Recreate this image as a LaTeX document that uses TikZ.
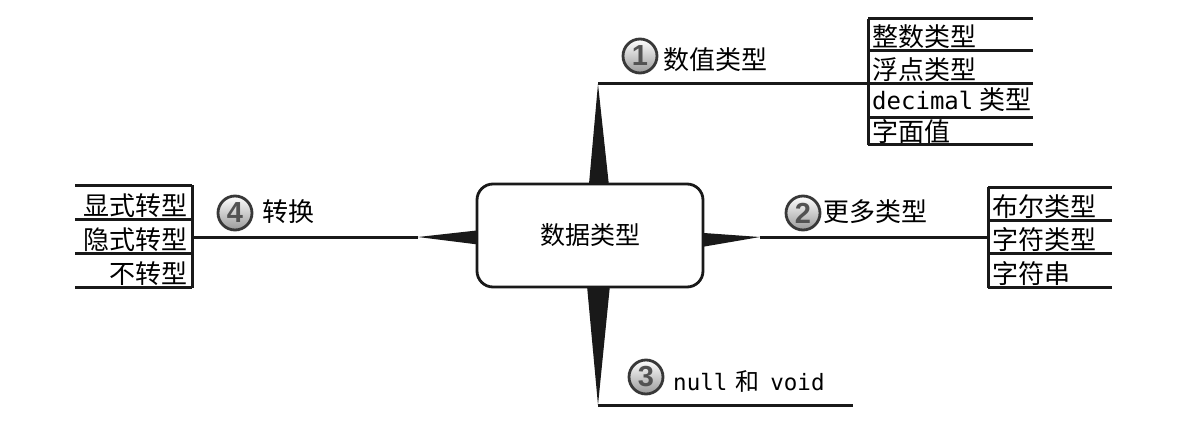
\documentclass[tikz,border=0pt]{standalone}
\usepackage{fontspec}
\setmainfont{Noto Sans CJK SC}
\newfontfamily\cjk{Noto Sans CJK SC}
\newfontfamily\mono{DejaVu Sans Mono}
\newfontfamily\numf{Liberation Sans}
\begin{document}
\begin{tikzpicture}[x=1pt,y=-1pt,
  ln/.style={line width=3pt, draw=black!90},
  spike/.style={fill=black!90},
  box/.style={draw=black!90, line width=2.8pt, rounded corners=16pt, fill=white,
    minimum width=226pt, minimum height=103pt, font=\fontsize{25}{30}\selectfont},
  circ/.style={circle, draw=black!78, line width=2.8pt, minimum size=34pt, inner sep=0pt,
    top color=white, bottom color=black!40, text=black!68,
    font=\numf\bfseries\fontsize{29}{29}\selectfont},
  item/.style={inner sep=0pt, font=\fontsize{26}{30}\selectfont},
  lbl/.style={inner sep=0pt, anchor=base west, font=\fontsize{26}{30}\selectfont}
]
\useasboundingbox (0,0) rectangle (1184,428);

% spike tips and ends of branches
\coordinate (t1) at (598,84);
\coordinate (t2) at (760,237);
\coordinate (t3) at (598,405);
\coordinate (t4) at (418,237);
\coordinate (e1) at (868,84);
\coordinate (e2) at (988,237);
\coordinate (e3) at (853,405);
\coordinate (e4) at (192,237);

% spikes
\fill[spike] (588,195) -- (610,195) -- (t1) -- cycle;
\fill[spike] (586,275) -- (611,275) -- (t3) -- cycle;
\fill[spike] (690,232) -- (690,249) -- (t2) -- cycle;
\fill[spike] (490,229) -- (490,246) -- (t4) -- cycle;

% central box
\node[box] (c) at (590,235.5) {数据类型};

% branch lines
\draw[ln] (t1) -- (e1);
\draw[ln] (t2) -- (e2);
\draw[ln] (t3) -- (e3);
\draw[ln] (t4) -- (e4);

% list 1
\draw[ln] (868,19) -- (868,144.5);
\foreach \yy in {19,51,84,117,144} \draw[ln] (868,\yy) -- (1033,\yy);
\node[item, anchor=base west] (a1) at (872,47) {整数类型};
\node[item, anchor=base west] (a2) at (872,80) {浮点类型};
\node[item, anchor=base west] (a3) at (872,110) {{\mono\fontsize{24}{28}\selectfont decimal}\hspace{6pt}类型};
\node[item, anchor=base west] (a4) at (872,141) {字面值};

% list 2
\draw[ln] (988,187) -- (988,287.5);
\foreach \yy in {187,220,253,287} \draw[ln] (988,\yy) -- (1112,\yy);
\node[item, anchor=base west] (b1) at (992,216) {布尔类型};
\node[item, anchor=base west] (b2) at (992,249) {字符类型};
\node[item, anchor=base west] (b3) at (992,283) {字符串};

% list 4
\draw[ln] (192,185) -- (192,287.5);
\foreach \yy in {185,219,253,287} \draw[ln] (75,\yy) -- (192,\yy);
\node[item, anchor=base east] (d1) at (188,215) {显式转型};
\node[item, anchor=base east] (d2) at (188,249) {隐式转型};
\node[item, anchor=base east] (d3) at (188,283) {不转型};

% labels
\node[circ] (n1) at (640,56) {1};
\node[lbl] (l1) at (663,70) {数值类型};
\node[circ] (n2) at (803,213) {2};
\node[lbl] (l2) at (823,221) {更多类型};
\node[circ] (n3) at (646,377) {3};
\node[lbl] (l3) at (673,390) {{\mono\fontsize{22.5}{26}\selectfont null}\hspace{8pt}{\fontsize{24}{28}\selectfont 和}\hspace{11pt}{\mono\fontsize{22.5}{26}\selectfont void}};
\node[circ] (n4) at (235,213) {4};
\node[lbl] (l4) at (262,221) {转换};
\end{tikzpicture}
\end{document}
